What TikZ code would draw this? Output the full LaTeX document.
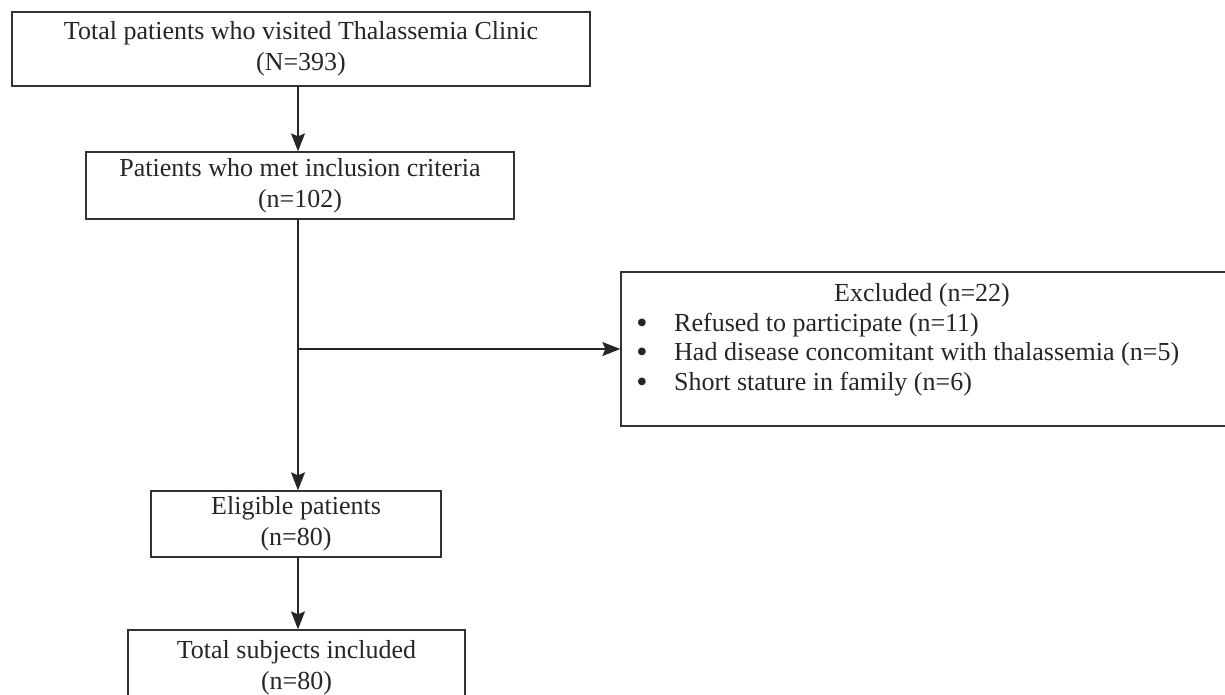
\documentclass[tikz,border=0pt]{standalone}
\usepackage{fontspec}
\setmainfont{Liberation Serif}
\usetikzlibrary{arrows.meta}
\tikzset{
  flowbox/.style={draw=black!80, line width=1.3pt, inner sep=0pt, align=center,
    font=\fontsize{26}{31}\selectfont},
  flowtext/.style={inner sep=0pt, font=\fontsize{26}{31}\selectfont, text=black!85},
  dot/.style={inner sep=0pt, font=\fontsize{32}{32}\selectfont, text=black!85},
  conn/.style={draw=black!85, line width=1.3pt},
  arr/.style={conn, -{Stealth[length=18pt,width=14pt,inset=3pt]}}
}
\begin{document}
\begin{tikzpicture}[x=1pt,y=-1pt]
\useasboundingbox (0,0) rectangle (1225,694);
\clip (0,0) rectangle (1225,694);
\fill[white] (0,0) rectangle (1225,694);
% main boxes
\node[flowbox, minimum width=578pt, minimum height=74pt, text=black!85] (b1) at (301,49)
  {Total patients who visited Thalassemia Clinic\\(N=393)};
\node[flowbox, minimum width=428pt, minimum height=67pt, text=black!85] (b2) at (300,185.5)
  {Patients who met inclusion criteria\\(n=102)};
\node[flowbox, minimum width=290pt, minimum height=66pt, text=black!85] (b3) at (296,524)
  {Eligible patients\\(n=80)};
\node[flowbox, minimum width=337pt, minimum height=75pt, text=black!85] (b4) at (296.5,667.5)
  {Total subjects included\\(n=80)};
% excluded box
\node[flowbox, minimum width=607pt, minimum height=154pt] (exc) at (924.5,349) {};
\node[flowtext] (t0) at (922,295) {Excluded (n=22)};
\node[dot] (d1) at (642,333) {\smash{\textbullet}};
\node[dot] (d2) at (642,362) {\smash{\textbullet}};
\node[dot] (d3) at (642,392) {\smash{\textbullet}};
\node[flowtext, anchor=west] (t1) at (674,325) {Refused to participate (n=11)};
\node[flowtext, anchor=west] (t2) at (674,354) {Had disease concomitant with thalassemia (n=5)};
\node[flowtext, anchor=west] (t3) at (674,384) {Short stature in family (n=6)};
% connectors
\coordinate (top1) at (298,86);
\coordinate (bot2) at (298,219);
\coordinate (br) at (298,349);
\coordinate (top3) at (298,491);
\coordinate (bot3) at (298,557);
\coordinate (top4) at (298,630);
\draw[arr] (top1) -- (top1 |- b2.north);
\draw[arr] (bot2) -- (top3 |- b3.north);
\draw[arr] (br) -- (exc.west);
\draw[arr] (bot3) -- (top4 |- b4.north);
\end{tikzpicture}
\end{document}
